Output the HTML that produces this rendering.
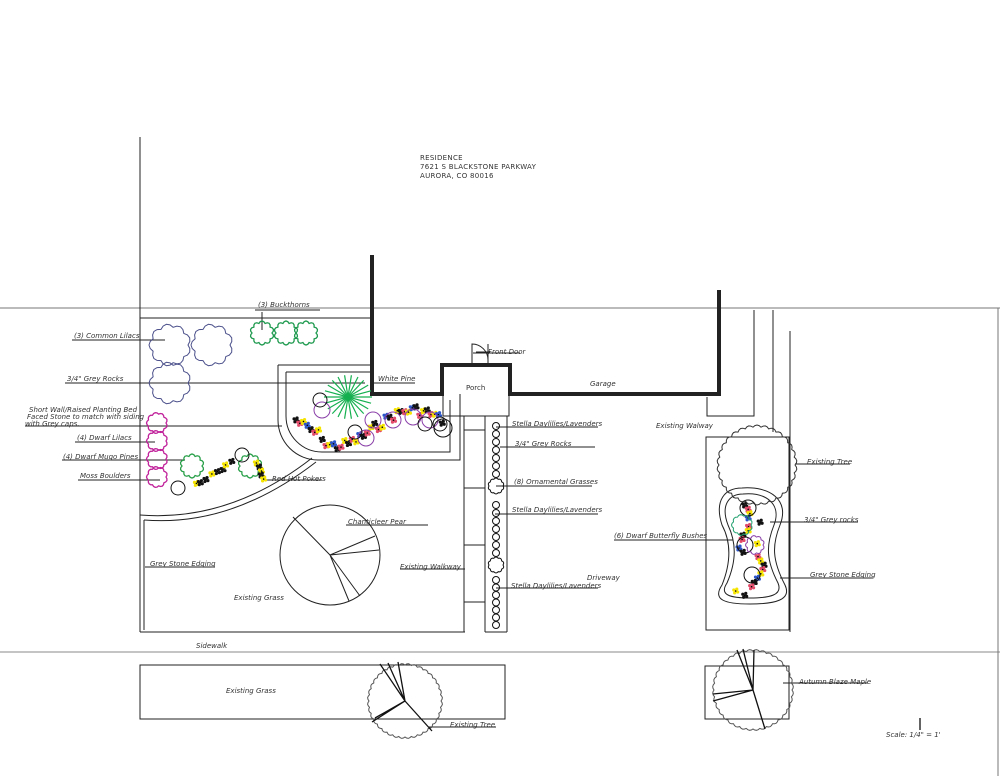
<!DOCTYPE html>
<html><head><meta charset="utf-8"><style>
html,body{margin:0;padding:0;background:#fff;width:1000px;height:776px;overflow:hidden}
svg{display:block}
text{font-family:"DejaVu Sans","Liberation Sans",sans-serif;font-size:7px;fill:#333;font-style:italic}
.u{text-decoration:underline}
</style></head><body>
<svg id="s" width="1000" height="776" viewBox="0 0 1000 776" xmlns="http://www.w3.org/2000/svg">
<g fill="none" stroke="#222" stroke-width="1">
<!-- property lines -->
<line x1="0" y1="308" x2="1000" y2="308" stroke="#777"/>
<line x1="0" y1="652" x2="1000" y2="652" stroke="#888"/>
<line x1="998" y1="308" x2="998" y2="776" stroke="#777"/>
<line x1="140" y1="137" x2="140" y2="632"/>
<line x1="140" y1="318" x2="372" y2="318"/>
<line x1="140" y1="632" x2="465" y2="632"/>
<line x1="144" y1="520" x2="144" y2="630"/>
<!-- curved edging -->
<path d="M140 515 Q230 522 312 458"/>
<path d="M144 520 Q232 527 316 462"/>
<!-- house -->
<path d="M372 255 V394 H442 V365 H510 V394 H719 V290" stroke-width="4"/>
<rect x="443" y="366" width="66" height="50"/>
<path d="M472 365 V344 A16 16 0 0 1 488 360 M488 344 V365"/>
<line x1="476" y1="352" x2="490" y2="352"/>
<!-- planting bed -->
<path d="M278 365 H372 M460 394 V460 H318 A40 40 0 0 1 278 420 V365"/>
<path d="M286 372 H372 M450 400 V452 H322 A36 36 0 0 1 286 416 V372"/>
<!-- walkway -->
<line x1="464" y1="416" x2="464" y2="632"/>
<line x1="485" y1="416" x2="485" y2="632"/>
<line x1="507" y1="416" x2="507" y2="632"/>
<line x1="464" y1="430" x2="485" y2="430"/>
<line x1="464" y1="488" x2="485" y2="488"/>
<line x1="464" y1="545" x2="485" y2="545"/>
<line x1="464" y1="602" x2="485" y2="602"/>
<line x1="485" y1="632" x2="507" y2="632"/>
<!-- right side -->
<path d="M707 397 V416 H754 V310"/>
<line x1="773" y1="310" x2="773" y2="432"/>
<line x1="790" y1="331" x2="790" y2="632"/>
<rect x="706" y="437" width="83" height="193"/>
<!-- lower -->
<rect x="140" y="665" width="365" height="54"/>
<rect x="705" y="666" width="84" height="53"/>
<!-- pear -->
<circle cx="330" cy="555" r="50"/>
<path d="M293 517 L330 555 L375 536 M330 555 L379 550 M330 555 L349 601 M330 555 L360 596"/>
<!-- oval bed -->
<path d="M742 488 C770 486 790 500 780 525 C772 545 772 560 785 585 C792 600 775 604 750 604 C725 604 712 600 722 585 C732 560 730 540 722 525 C714 500 725 488 742 488Z"/>
<path d="M743 494 C766 492 782 504 774 525 C766 545 766 560 778 583 C783 595 770 598 750 598 C730 598 719 595 727 583 C737 560 736 542 728 525 C720 504 730 494 743 494Z"/>
<!-- leader lines -->
<path d="M72 340 H165 M65 383 H365 M25 426 H282 M75 442 H155 M62 460 H185 M78 480 H160
M262 312 V330 M255 310 H320 M372 383 H415 M473 353 H520 M262 480 H322
M346 525 H428 M400 569 H465 M145 567 H215 M496 427 H598 M500 447 H595 M496 486 H592
M495 514 H598 M496 588 H598 M614 540 H733 M795 464 H850 M770 522 H858 M780 578 H873
M783 683 H868 M428 727 H496"/>
</g>
<g id="plants"></g>
<g fill="none" stroke="#555" stroke-width="1" id="bigtrees"></g>
<g fill="none" stroke="#111" stroke-width="1.3">
<path d="M405 701 L380 664 M405 701 L388 663 M405 701 L398 662 M405 701 L372 722 M405 701 L375 718 M405 701 L432 731"/>
<path d="M753 690 L737 650 M753 690 L743 649 M753 690 L754 650 M753 690 L713 701 M753 690 L713 694 M753 690 L765 729"/>
<line x1="920" y1="718" x2="920" y2="730"/>
</g>
<g>
<text x="420" y="160" style="font-style:normal;letter-spacing:.3px">RESIDENCE</text>
<text x="420" y="169" style="font-style:normal;letter-spacing:.3px">7621 S BLACKSTONE PARKWAY</text>
<text x="420" y="178" style="font-style:normal;letter-spacing:.3px">AURORA, CO 80016</text>
<text x="74" y="338">(3) Common Lilacs</text>
<text x="67" y="381">3/4" Grey Rocks</text>
<text x="29" y="412">Short Wall/Raised Planting Bed</text>
<text x="27" y="419">Faced Stone to match with siding</text>
<text x="25" y="426">with Grey caps.</text>
<text x="77" y="440">(4) Dwarf Lilacs</text>
<text x="63" y="459">(4) Dwarf Mugo Pines</text>
<text x="80" y="478">Moss Boulders</text>
<text x="258" y="307">(3) Buckthorns</text>
<text x="378" y="381">White Pine</text>
<text x="488" y="354">Front Door</text>
<text x="466" y="390" style="font-style:normal">Porch</text>
<text x="590" y="386">Garage</text>
<text x="656" y="428">Existing Walway</text>
<text x="272" y="481">Red Hot Pokers</text>
<text x="348" y="524">Chanticleer Pear</text>
<text x="400" y="569">Existing Walkway</text>
<text x="150" y="566">Grey Stone Edging</text>
<text x="234" y="600">Existing Grass</text>
<text x="512" y="426">Stella Daylilies/Lavenders</text>
<text x="515" y="446">3/4" Grey Rocks</text>
<text x="514" y="484">(8) Ornamental Grasses</text>
<text x="512" y="512">Stella Daylilies/Lavenders</text>
<text x="587" y="580">Driveway</text>
<text x="511" y="588">Stella Daylilies/Lavenders</text>
<text x="614" y="538">(6) Dwarf Butterfly Bushes</text>
<text x="807" y="464">Existing Tree</text>
<text x="804" y="522">3/4" Grey rocks</text>
<text x="810" y="577">Grey Stone Edging</text>
<text x="196" y="648">Sidewalk</text>
<text x="226" y="693">Existing Grass</text>
<text x="450" y="727">Existing Tree</text>
<text x="799" y="684">Autumn Blaze Maple</text>
<text x="886" y="737">Scale: 1/4" = 1'</text>
</g>
</svg>
<script>
var NS="http://www.w3.org/2000/svg";
function scal(g,cx,cy,r,n,amp,col,sw){var d="";for(var i=0;i<=n*4;i++){var a=i/(n*4)*Math.PI*2;var rr=r+amp*Math.abs(Math.sin(i/4*Math.PI));d+=(i?"L":"M")+(cx+rr*Math.cos(a)).toFixed(1)+" "+(cy+rr*Math.sin(a)).toFixed(1);}var p=document.createElementNS(NS,"path");p.setAttribute("d",d+"Z");p.setAttribute("fill","none");p.setAttribute("stroke",col);p.setAttribute("stroke-width",sw||1);g.appendChild(p);}
function circ(g,cx,cy,r,col,fill){var c=document.createElementNS(NS,"circle");c.setAttribute("cx",cx);c.setAttribute("cy",cy);c.setAttribute("r",r);c.setAttribute("fill",fill||"none");c.setAttribute("stroke",col);g.appendChild(c);}
function line(g,x1,y1,x2,y2,col,w){var l=document.createElementNS(NS,"line");l.setAttribute("x1",x1);l.setAttribute("y1",y1);l.setAttribute("x2",x2);l.setAttribute("y2",y2);l.setAttribute("stroke",col);l.setAttribute("stroke-width",w||1);g.appendChild(l);}
var g=document.getElementById("plants"),bt=document.getElementById("bigtrees");
// lilacs
[[170,345],[212,345],[170,383]].forEach(function(p){scal(g,p[0],p[1],18,9,3,"#4a4f8a");});
// buckthorns
[[262,333],[286,333],[306,333]].forEach(function(p){scal(g,p[0],p[1],10,10,2,"#1f9a4f",1.3);});
// dwarf lilacs
[[157,423],[157,441],[157,459],[157,477]].forEach(function(p){scal(g,p[0],p[1],9,9,1.5,"#c0219a",1.3);});
// mugo pines
scal(g,192,466,10,10,2,"#2aa04a",1.3);scal(g,250,466,10,10,2,"#2aa04a",1.3);
circ(g,178,488,7,"#111");circ(g,242,455,7,"#111");
// white pine
for(var i=0;i<22;i++){var a=i/22*Math.PI*2;line(g,348,397,348+24*Math.cos(a),397+22*Math.sin(a),"#16b050",1.2);}
// bed flowers
var cols=["#111","#e34a6a","#f5e400","#2b55c8","#111","#e34a6a","#f5e400"];
var seed=7;function rnd(){seed=(seed*9301+49297)%233280;return seed/233280;}
function bloom(x,y,c){for(var k=0;k<4;k++){var a=k*Math.PI/2+0.5;circ(g,x+2.2*Math.cos(a),y+2.2*Math.sin(a),1.6,"none",c);}circ(g,x,y,0.8,"none","#000");}
for(var i=0;i<40;i++){var t=i/40;var x=296+t*150,y=420+18*Math.sin(t*6)+rnd()*10-5+(t<0.2?0:8);bloom(x,y,cols[i%7]);}
[[322,410],[393,420],[413,417],[373,420],[430,420],[366,438]].forEach(function(p){circ(g,p[0],p[1],8,"#8a3fa8");});
[[320,400],[355,432],[425,424],[440,424]].forEach(function(p){circ(g,p[0],p[1],7,"#111");});
circ(g,443,428,9,"#111");
for(var i=0;i<8;i++)bloom(195+i*5+rnd()*4,482-i*3+rnd()*4,i%3?"#111":"#f5e400");
for(var i=0;i<5;i++)bloom(256+rnd()*8,463+i*4,i%2?"#111":"#f5e400");
// walkway plants
for(var i=0;i<7;i++)circ(g,496,426+i*8,3.5,"#111");
for(var i=0;i<7;i++)circ(g,496,505+i*8,3.5,"#111");
for(var i=0;i<7;i++)circ(g,496,580+i*7.5,3.5,"#111");
scal(g,496,486,7,10,1,"#111");scal(g,496,565,7,10,1,"#111");
// oval bed
for(var i=0;i<22;i++){var y=505+i*4.3,x=735+rnd()*30;bloom(x,y,cols[i%7]);}
[[748,508],[745,545],[752,575]].forEach(function(p){circ(g,p[0],p[1],8,"#111");});
scal(g,742,525,9,9,1.5,"#22a070");scal(g,755,545,8,9,1.5,"#8a3fa8");
// big trees
scal(bt,757,465,38,30,2,"#333");
scal(bt,405,701,36,36,1.5,"#555");
scal(bt,753,690,39,36,1.5,"#555");
</script>
</body></html>
